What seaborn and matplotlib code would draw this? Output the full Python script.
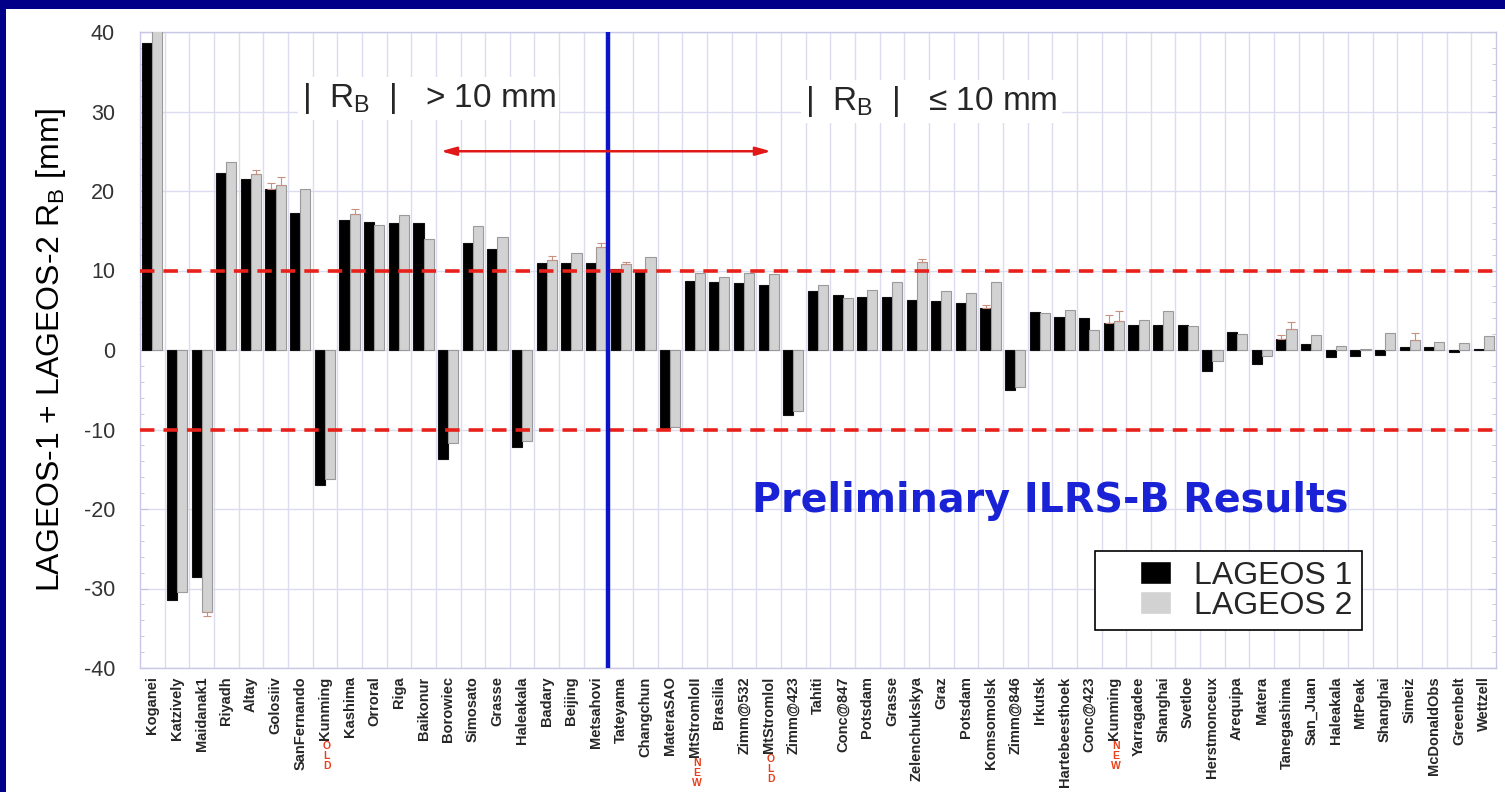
import matplotlib
matplotlib.use("Agg")
import matplotlib.pyplot as plt
import matplotlib.patches as mpatches
from matplotlib.legend_handler import HandlerPatch
from matplotlib.ticker import MultipleLocator, FixedLocator
import numpy as np
import pandas as pd
import seaborn as sns

# ---------------- data ----------------
stations = ["Koganei", "Katzively", "Maidanak1", "Riyadh", "Altay", "Golosiiv", "SanFernando",
            "Kunming", "Kashima", "Orroral", "Riga", "Baikonur", "Borowiec", "Simosato", "Grasse",
            "Haleakala", "Badary", "Beijing", "Metsahovi", "Tateyama", "Changchun", "MateraSAO",
            "MtStromloII", "Brasilia", "Zimm@532", "MtStromlol", "Zimm@423", "Tahiti", "Conc@847",
            "Potsdam", "Grasse", "Zelenchukskya", "Graz", "Potsdam", "Komsomolsk", "Zimm@846",
            "Irkutsk", "Hartebeesthoek", "Conc@423", "Kunming", "Yarragadee", "Shanghai", "Svetloe",
            "Herstmonceux", "Arequipa", "Matera", "Tanegashima", "San_Juan", "Haleakala", "MtPeak",
            "Shanghai", "Simeiz", "McDonaldObs", "Greenbelt", "Wettzell"]

lageos1 = [38.6, -31.5, -28.6, 22.3, 21.5, 20.2, 17.2, -17.0, 16.3, 16.1, 16.0, 16.0, -13.7, 13.4,
           12.7, -12.2, 11.0, 10.9, 10.9, 10.2, 9.9, -9.8, 8.7, 8.6, 8.4, 8.2, -8.2, 7.4, 6.9, 6.7,
           6.7, 6.3, 6.2, 5.9, 5.3, -5.0, 4.8, 4.2, 4.0, 3.4, 3.2, 3.1, 3.1, -2.6, 2.3, -1.7, 1.4,
           0.8, -0.9, -0.7, -0.6, 0.4, 0.4, -0.3, 0.1]

lageos2 = [40.5, -30.5, -32.9, 23.7, 22.1, 20.8, 20.2, -16.2, 17.1, 15.7, 17.0, 13.9, -11.7, 15.6,
           14.2, -11.4, 11.3, 12.2, 13.0, 10.8, 11.7, -9.7, 9.7, 9.2, 9.7, 9.6, -7.7, 8.2, 6.6, 7.6,
           8.5, 11.1, 7.4, 7.2, 8.6, -4.7, 4.7, 5.0, 2.5, 3.7, 3.8, 4.9, 3.0, -1.4, 2.0, -0.8, 2.7,
           1.9, 0.5, 0.1, 2.2, 1.3, 1.0, 0.9, 1.7]

err1 = [0, 0, 0, 0, 0, 0.8, 0, 0, 0, 0, 0, 0, 0, 0, 0, 0, 0, 0, 0, 0, 0, 0, 0, 0, 0, 0, 0, 0, 0, 0,
        0, 0, 0, 0, 0.4, 0, 0, 0, 0, 1.0, 0, 0, 0, 0, 0, 0, 0.5, 0, 0, 0, 0, 0, 0, 0, 0]
err2 = [0, 0, 0.5, 0, 0.5, 1.0, 0, 0, 0.6, 0, 0, 0, 0, 0, 0, 0, 0.5, 0, 0.5, 0.3, 0, 0, 0, 0, 0, 0,
        0, 0, 0, 0, 0, 0.4, 0, 0, 0, 0, 0, 0, 0, 1.2, 0, 0, 0, 0, 0, 0, 0.8, 0, 0, 0, 0, 0.8, 0, 0, 0]

# red annotations under some station names (index -> word)
markers = {7: "OLD", 22: "NEW", 25: "OLD", 39: "NEW"}

series_names = ["LAGEOS 1", "LAGEOS 2"]
yticks = [-40, -30, -20, -10, 0, 10, 20, 30, 40]

# ---------------- style ----------------
sns.set_style("white")
plt.rcParams["font.family"] = ["Liberation Sans", "DejaVu Sans"]
plt.rcParams["mathtext.default"] = "regular"

n = len(stations)
df = pd.DataFrame({
    "idx": list(range(n)) * 2,
    "value": lageos1 + lageos2,
    "series": [series_names[0]] * n + [series_names[1]] * n,
})

fig = plt.figure(figsize=(15.05, 7.92), dpi=100)
fig.patch.set_facecolor("#000088")
fig.add_artist(mpatches.Rectangle((6 / 1505, 0), 1, 1 - 9 / 792, transform=fig.transFigure,
                                  facecolor="white", edgecolor="none", zorder=-10))

ax = fig.add_axes([140 / 1505, 1 - 668 / 792, (1496 - 140) / 1505, (668 - 32) / 792])
ax.set_facecolor("white")

sns.barplot(data=df, x="idx", y="value", hue="series",
            palette={series_names[0]: "black", series_names[1]: "#d2d2d2"},
            width=0.82, errorbar=None, saturation=1, ax=ax, zorder=3)

edge_cols = ["#111111", "#9a9a9a"]
for cont, ec in zip(ax.containers, edge_cols):
    for p in cont:
        p.set_edgecolor(ec)
        p.set_linewidth(0.8)

# small one-sided error bars
for cont, vals, errs in zip(ax.containers, [lageos1, lageos2], [err1, err2]):
    xs, ys, lo, hi = [], [], [], []
    for p, v, e in zip(cont, vals, errs):
        if e > 0:
            xs.append(p.get_x() + p.get_width() / 2)
            ys.append(v)
            lo.append(e if v < 0 else 0)
            hi.append(e if v >= 0 else 0)
    ax.errorbar(xs, ys, yerr=[lo, hi], fmt="none", ecolor="#c89080", elinewidth=0.8,
                capsize=3, capthick=0.8, zorder=4)

ax.set_xlim(-0.5, n - 0.5)
ax.set_ylim(-40, 40)

# axes, grids
ax.set_yticks(yticks)
ax.set_yticklabels([str(t) for t in yticks], fontsize=15.5, color="#333333")
ax.yaxis.set_minor_locator(MultipleLocator(2))
ax.set_xticks(range(n))
ax.set_xticklabels(stations, rotation=90, fontsize=10.5, fontweight="bold",
                   family=["Liberation Sans Narrow", "Liberation Sans"], va="top", ha="center")
ax.xaxis.set_minor_locator(FixedLocator(np.arange(0.5, n - 1, 1.0)))
ax.tick_params(axis="x", which="both", length=0, pad=6)
ax.tick_params(axis="y", which="major", direction="in", length=6, color="#c0c0e0", pad=18,
               left=True, right=True)
ax.tick_params(axis="y", which="minor", direction="in", length=3, color="#c0c0e0",
               left=True, right=True)
ax.grid(False)
ax.grid(axis="x", which="minor", color="#dcdcf0", lw=1.0, zorder=0)
ax.grid(axis="y", which="major", color="#dcdcf0", lw=1.0, zorder=0)
for s in ax.spines.values():
    s.set_color("#c8c8e6")
    s.set_linewidth(1.0)

ax.set_xlabel("")
ax.set_ylabel("LAGEOS-1 + LAGEOS-2 R$_B$ [mm]", fontsize=23, color="black")
ax.yaxis.set_label_coords(-0.053, 0.5)

# reference lines
for yv in (10, -10):
    ax.axhline(yv, color="#e8201a", lw=2.6, ls=(0, (4, 2.5)), zorder=5)
ax.axvline(18.5, color="#0a14c8", lw=3.2, zorder=6)

# arrow & texts
ax.annotate("", xy=(11.7, 25), xytext=(25.1, 25),
            arrowprops=dict(arrowstyle="<|-|>,head_length=0.9,head_width=0.25", color="#e01818",
                            lw=1.8, shrinkA=0, shrinkB=0), zorder=7)
ax.text(11.2, 31.6, "|  R$_B$  |   > 10 mm", fontsize=24, ha="center", va="center", zorder=7,
        bbox=dict(facecolor="white", edgecolor="none", pad=3))
ax.text(31.6, 31.3, "|  R$_B$  |   \u2264 10 mm", fontsize=24, ha="center", va="center", zorder=7,
        bbox=dict(facecolor="white", edgecolor="none", pad=3))
ax.text(36.4, -19.0, "Preliminary ILRS-B Results", fontsize=28.5, fontweight="bold",
        family=["DejaVu Sans"], color="#1a22d6", ha="center", va="center", zorder=7)


# legend with square markers set to the right of a wide handle box
def square_patch(legend, orig_handle, xdescent, ydescent, width, height, fontsize):
    side = height * 1.4
    return mpatches.Rectangle((-xdescent + width - side, -ydescent), side, height)


handles, labels = ax.get_legend_handles_labels()
leg = ax.legend(handles, labels, loc="upper right", bbox_to_anchor=(0.901, 0.184),
                fontsize=23, frameon=True, fancybox=False, framealpha=1, edgecolor="black",
                handlelength=2.1, handleheight=0.7, labelspacing=0.0, handletextpad=0.7,
                borderpad=0.3, borderaxespad=0,
                handler_map={mpatches.Rectangle: HandlerPatch(patch_func=square_patch)})
leg.get_frame().set_linewidth(1.2)
leg.set_zorder(8)

# red OLD/NEW marks stacked just below the corresponding station names
fig.canvas.draw()
renderer = fig.canvas.get_renderer()
ticklabels = ax.get_xticklabels()
to_axes = ax.transAxes.inverted()
for i, word in markers.items():
    bb = ticklabels[i].get_window_extent(renderer)
    for k, ch in enumerate(word):
        y_disp = bb.y0 - 6 - 10 * k
        _, y_ax = to_axes.transform((0, y_disp))
        ax.text(i + 0.08, y_ax, ch, transform=ax.get_xaxis_transform(),
                fontsize=7.5, fontweight="bold", color="#e8401c", ha="center", va="center",
                clip_on=False)

fig.savefig("out.png", dpi=100, facecolor=fig.get_facecolor())
